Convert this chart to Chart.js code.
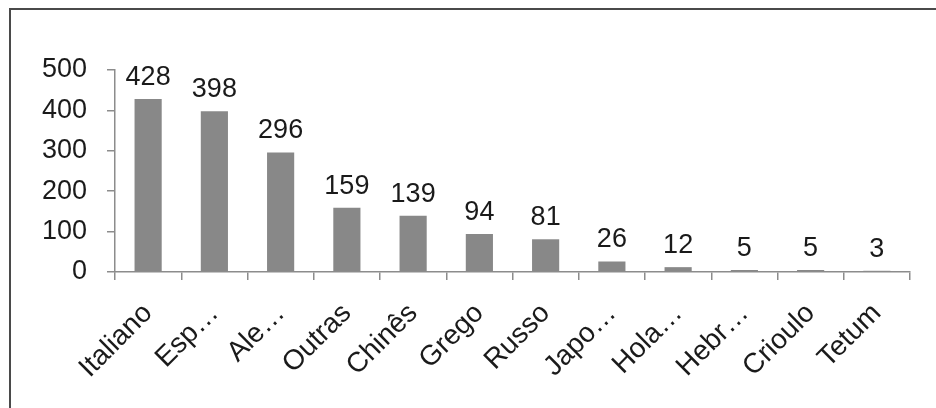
<!DOCTYPE html>
<html>
<head>
<meta charset="utf-8">
<script src="https://cdn.jsdelivr.net/npm/chart.js@4/dist/chart.umd.min.js"></script>
<style>
  html, body { margin: 0; padding: 0; background: #fff; }
  #wrap { position: relative; width: 936px; height: 408px; overflow: hidden; }
  #frame {
    position: absolute; left: 9px; top: 8px; width: 1000px; height: 500px;
    border-left: 2px solid #4a4a4a; border-top: 2px solid #4a4a4a;
    pointer-events: none;
  }
</style>
</head>
<body>
<div id="wrap">
  <canvas id="barChart" width="936" height="408"></canvas>
  <div id="frame"></div>
</div>
<script>
// dados
var idiomas = ["Italiano", "Esp…", "Ale…", "Outras", "Chinês", "Grego", "Russo", "Japo…", "Hola…", "Hebr…", "Crioulo", "Tetum"];
var totais = [428, 398, 296, 159, 139, 94, 81, 26, 12, 5, 5, 3];
var escalaY = { min: 0, max: 500, step: 100 };

Chart.defaults.font.family = "'Liberation Sans', Arial, sans-serif";
Chart.defaults.color = "#1a1a1a";

// rótulos em cima das barras
var rotulos = {
  id: "rotulos",
  afterDatasetsDraw: function (chart) {
    var ctx = chart.ctx;
    var meta = chart.getDatasetMeta(0);
    ctx.save();
    ctx.font = "27px 'Liberation Sans', Arial, sans-serif";
    ctx.fillStyle = "#1a1a1a";
    ctx.textAlign = "center";
    ctx.textBaseline = "alphabetic";
    meta.data.forEach(function (bar, i) {
      ctx.fillText(String(totais[i]), bar.x, bar.y - 14);
    });
    ctx.restore();
  },
};

var barCtx = document.getElementById("barChart").getContext("2d");
var barChart = new Chart(barCtx, {
  type: "bar",
  data: {
    labels: idiomas,
    datasets: [
      {
        data: totais,
        backgroundColor: "#888888",
        borderWidth: 0,
        categoryPercentage: 1,
        barPercentage: 0.41,
      },
    ],
  },
  options: {
    responsive: false,
    animation: false,
    events: [],
    layout: {
      padding: { top: 70, right: 26, left: 0, bottom: 0 },
    },
    plugins: {
      legend: { display: false },
      tooltip: { enabled: false },
    },
    scales: {
      x: {
        offset: true,
        border: { color: "#8c8c8c", width: 1.5 },
        grid: {
          offset: true,
          drawOnChartArea: false,
          color: "#8c8c8c",
          lineWidth: 1.5,
          tickLength: 8,
        },
        ticks: {
          minRotation: 45,
          maxRotation: 45,
          autoSkip: false,
          padding: 17,
          font: { size: 28 },
          color: "#1a1a1a",
        },
        afterFit: function (axis) {
          axis.height = 136;
        },
      },
      y: {
        min: escalaY.min,
        max: escalaY.max,
        border: { color: "#8c8c8c", width: 1.5 },
        grid: {
          drawOnChartArea: false,
          color: "#8c8c8c",
          lineWidth: 1.5,
          tickLength: 8,
        },
        ticks: {
          stepSize: escalaY.step,
          padding: 20,
          font: { size: 27 },
          color: "#1a1a1a",
        },
        afterFit: function (axis) {
          axis.width = 115;
        },
      },
    },
  },
  plugins: [rotulos],
});
</script>
</body>
</html>
